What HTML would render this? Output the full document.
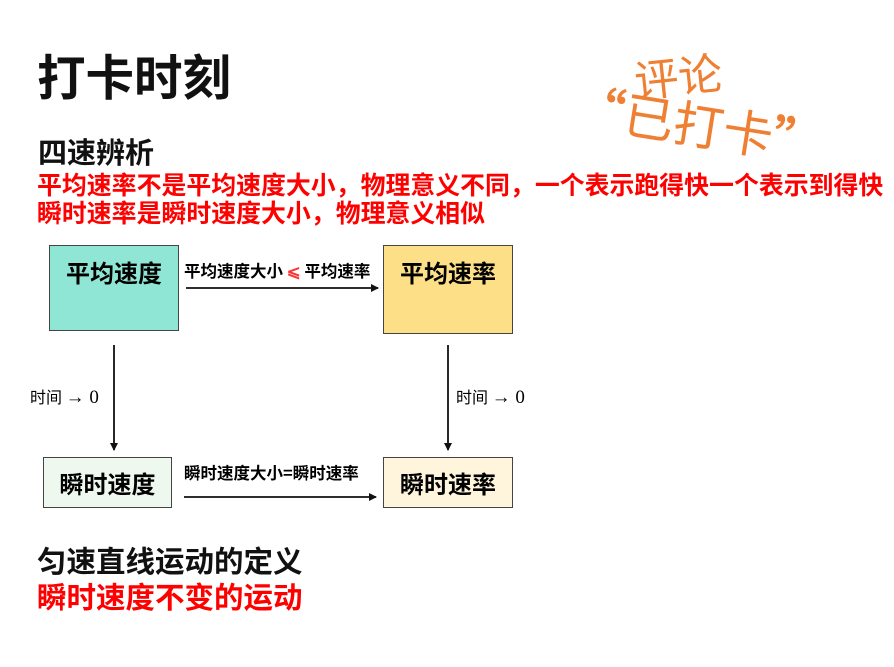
<!DOCTYPE html>
<html><head><meta charset="utf-8"><style>
body{margin:0;width:894px;height:667px;background:#fff;position:relative;overflow:hidden;font-family:"Liberation Sans","Noto Sans CJK SC",sans-serif}
.t{position:absolute;white-space:nowrap;font-weight:bold;line-height:1}
.box{position:absolute;box-sizing:border-box;border:1.5px solid #444;text-align:center;font-weight:bold;font-size:24px;line-height:1;font-family:"Noto Sans CJK SC",sans-serif}
.lab{position:absolute;white-space:nowrap;font-size:16px;line-height:1;font-family:"Noto Sans CJK SC",sans-serif}
</style></head><body>
<div class="t" style="left:37px;top:55px;font-size:48.5px;color:#111">打卡时刻</div>
<div class="t" style="left:38px;top:140px;font-size:29px;color:#111">四速辨析</div>
<div class="t" style="left:37px;top:174px;font-size:24.9px;color:#f00">平均速率不是平均速度大小，物理意义不同，一个表示跑得快一个表示到得快</div>
<div class="t" style="left:37px;top:202px;font-size:24.9px;color:#f00">瞬时速率是瞬时速度大小，物理意义相似</div>
<div class="t" style="left:37px;top:548px;font-size:29.5px;color:#111">匀速直线运动的定义</div>
<div class="t" style="left:37px;top:584px;font-size:29.5px;color:#f00">瞬时速度不变的运动</div>

<div style="position:absolute;left:634px;top:52px;transform:rotate(-6deg);color:#ef7f32;font-size:44px;font-family:'Noto Sans CJK SC',sans-serif;font-weight:400;line-height:1">评论</div>
<div style="position:absolute;left:574px;top:98px;transform:rotate(9deg);color:#ef7f32;font-size:50px;font-family:'Noto Sans CJK SC',sans-serif;font-weight:400;line-height:1;white-space:nowrap"><b>“</b>已打卡<b>”</b></div>

<div class="box" style="left:49px;top:245px;width:130px;height:86px;background:#8fe6d4;padding-top:14px">平均速度</div>
<div class="box" style="left:383px;top:245px;width:130px;height:89px;background:#fddf87;padding-top:14px">平均速率</div>
<div class="box" style="left:43px;top:457px;width:129px;height:51px;background:#eef8ee;padding-top:13px">瞬时速度</div>
<div class="box" style="left:383px;top:457px;width:130px;height:51px;background:#fff5dc;padding-top:13px">瞬时速率</div>

<div class="lab" style="left:184px;top:262px;font-size:16.5px;font-weight:bold">平均速度大小 <span style="color:#f33">⩽</span> 平均速率</div>
<div class="lab" style="left:184px;top:464px;font-size:16.5px;font-weight:bold">瞬时速度大小=瞬时速率</div>
<div class="lab" style="left:30px;top:388px">时间 <span style="font-family:'Liberation Serif',serif;font-size:19px">→ 0</span></div>
<div class="lab" style="left:456px;top:388px">时间 <span style="font-family:'Liberation Serif',serif;font-size:19px">→ 0</span></div>

<svg width="894" height="667" style="position:absolute;left:0;top:0">
<defs><marker id="a" markerWidth="8" markerHeight="8" refX="7" refY="4" orient="auto" markerUnits="userSpaceOnUse"><path d="M0,0 L8,4 L0,8z" fill="#111"/></marker></defs>
<g stroke="#111" stroke-width="1.8">
<line x1="186" y1="288" x2="378" y2="288" marker-end="url(#a)"/>
<line x1="184" y1="497" x2="376" y2="497" marker-end="url(#a)"/>
<line x1="114" y1="345" x2="114" y2="450" marker-end="url(#a)"/>
<line x1="448" y1="345" x2="448" y2="450" marker-end="url(#a)"/>
</g></svg>
</body></html>
